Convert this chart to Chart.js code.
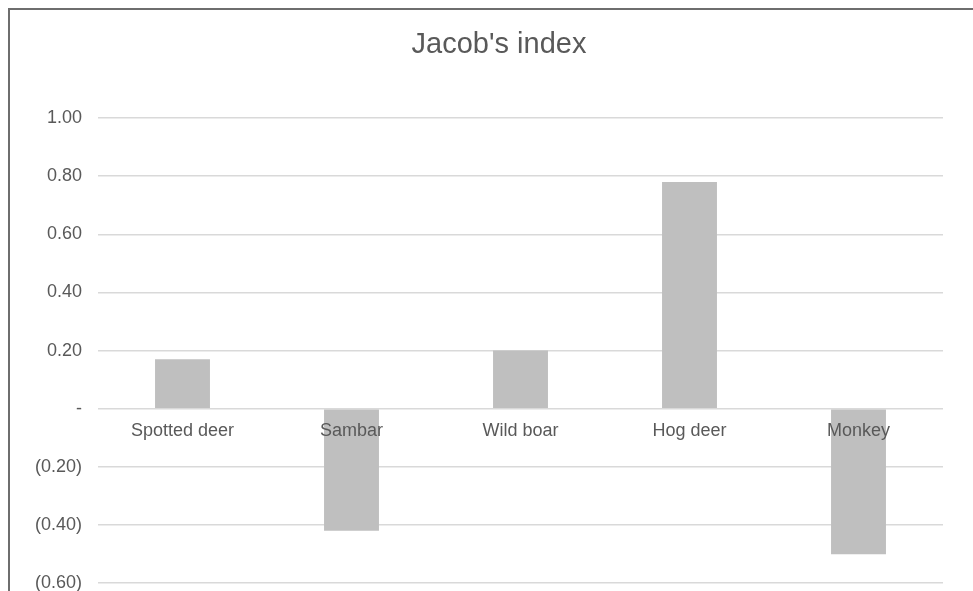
<!DOCTYPE html>
<html>
<head>
<meta charset="utf-8">
<title>Jacob's index</title>
<script src="https://cdn.jsdelivr.net/npm/chart.js@4/dist/chart.umd.min.js"></script>
<style>
    html, body { margin: 0; padding: 0; background: #fff; }
    body { width: 973px; height: 591px; overflow: hidden; position: relative; }
    .frame {
        position: absolute; left: 8px; top: 8px; width: 980px; height: 600px;
        border-left: 2px solid #6e6e6e; border-top: 2px solid #6e6e6e;
    }
    #wrap { position: absolute; left: 0; top: 0; width: 973px; height: 610px; }
</style>
</head>
<body>
<div class="frame"></div>
<div id="wrap"><canvas id="jacobChart"></canvas></div>
<script>
// Chart data
const chartTitle = "Jacob's index";
const categories = ['Spotted deer', 'Sambar', 'Wild boar', 'Hog deer', 'Monkey'];
const jacobValues = [0.17, -0.42, 0.20, 0.78, -0.50];
const yTicks = [-0.6, -0.4, -0.2, 0, 0.2, 0.4, 0.6, 0.8, 1.0];

const FONT = "'Liberation Sans', Arial, sans-serif";
const TEXT_COLOR = '#595959';

// Excel style accounting format: 0.20, -, (0.20)
const formatTick = (v) => {
    if (Math.abs(v) < 1e-9) return '-';
    const s = Math.abs(v).toFixed(2);
    return v < 0 ? '(' + s + ')' : s;
};

// Title centred on the whole chart box, category labels just under the zero line
const excelText = {
    id: 'excelText',
    afterDatasetsDraw(chart) {
        const { ctx, scales } = chart;
        ctx.save();
        ctx.fillStyle = TEXT_COLOR;
        ctx.textAlign = 'center';
        ctx.textBaseline = 'middle';

        ctx.font = '29px ' + FONT;
        ctx.fillText(chartTitle, 499, 45);

        const y0 = scales.y.getPixelForValue(0);
        ctx.font = '18px ' + FONT;
        categories.forEach((label, i) => {
            ctx.fillText(label, scales.x.getPixelForValue(i), y0 + 22);
        });
        ctx.restore();
    }
};

const ctx = document.getElementById('jacobChart').getContext('2d');
new Chart(ctx, {
    type: 'bar',
    data: {
        labels: categories,
        datasets: [{
            label: chartTitle,
            data: jacobValues,
            backgroundColor: '#bfbfbf',
            borderWidth: 0,
            barPercentage: 0.65,
            categoryPercentage: 0.5
        }]
    },
    options: {
        responsive: true,
        maintainAspectRatio: false,
        animation: false,
        layout: { padding: { left: 0, right: 30, top: 118, bottom: 9 } },
        plugins: {
            legend: { display: false },
            tooltip: { enabled: false },
            title: { display: false }
        },
        scales: {
            x: {
                display: false
            },
            y: {
                min: -0.6,
                max: 1.0,
                afterFit: (scale) => { scale.width = 98; },
                afterBuildTicks: (scale) => {
                    scale.ticks = yTicks.map(v => ({ value: v }));
                },
                grid: {
                    color: '#d9d9d9',
                    lineWidth: 1.5,
                    drawTicks: false
                },
                border: { display: false },
                ticks: {
                    color: TEXT_COLOR,
                    font: { family: FONT, size: 18 },
                    padding: 16,
                    callback: (v) => formatTick(v)
                }
            }
        }
    },
    plugins: [excelText]
});
</script>
</body>
</html>
